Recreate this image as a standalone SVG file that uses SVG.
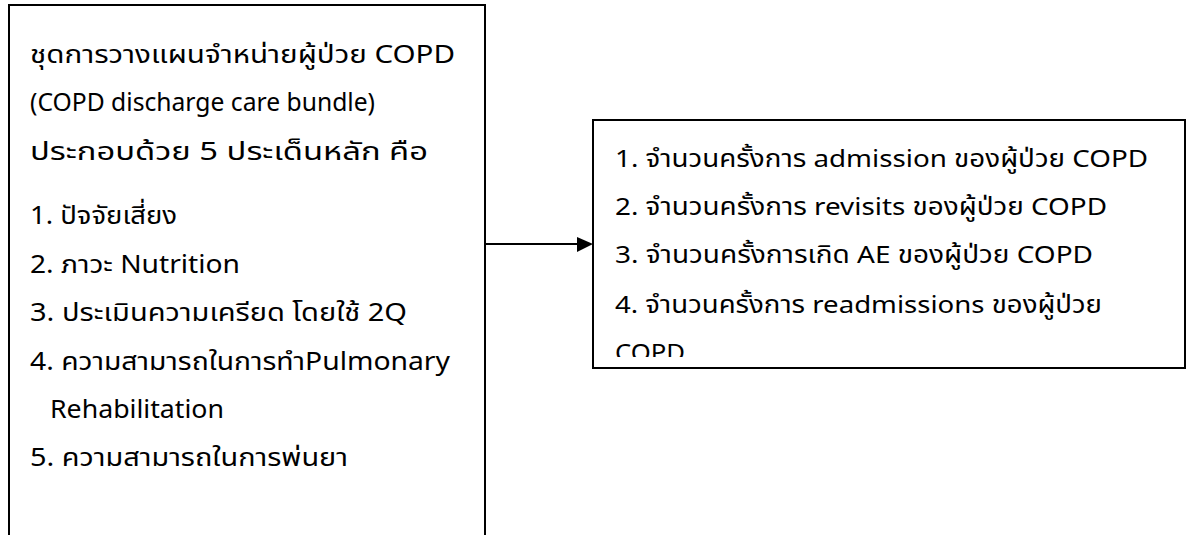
<svg xmlns="http://www.w3.org/2000/svg" width="1186" height="535" viewBox="0 0 1186 535">
  <defs>
    <style>
      .box { fill: #ffffff; stroke: #000000; stroke-width: 2; }
      .t { font-family: "Noto Sans Thai", "Noto Sans", "DejaVu Sans", sans-serif; fill: #000000; }
      .tl { font-size: 25px; }
      .tr { font-size: 24px; }
      .conn { stroke: #000000; stroke-width: 2; fill: none; }
    </style>
    <clipPath id="clipR">
      <rect x="594" y="121" width="590" height="236"/>
    </clipPath>
  </defs>
  <rect width="1186" height="535" fill="#ffffff"/>
  <g id="node-bundle">
    <rect class="box" x="9" y="5" width="476" height="545"/>
    <text class="t tl" x="30" y="63" textLength="425" lengthAdjust="spacingAndGlyphs">ชุดการวางแผนจำหน่ายผู้ป่วย COPD</text>
    <text class="t tl" x="30" y="111" textLength="345" lengthAdjust="spacingAndGlyphs">(COPD discharge care bundle)</text>
    <text class="t tl" x="30" y="160" textLength="398" lengthAdjust="spacingAndGlyphs">ประกอบด้วย 5 ประเด็นหลัก คือ</text>
    <text class="t tl" x="30" y="224" textLength="147" lengthAdjust="spacingAndGlyphs">1. ปัจจัยเสี่ยง</text>
    <text class="t tl" x="30" y="273" textLength="210" lengthAdjust="spacingAndGlyphs">2. ภาวะ Nutrition</text>
    <text class="t tl" x="30" y="321" textLength="377" lengthAdjust="spacingAndGlyphs">3. ประเมินความเครียด โดยใช้ 2Q</text>
    <text class="t tl" x="30" y="370" textLength="420" lengthAdjust="spacingAndGlyphs">4. ความสามารถในการทำPulmonary</text>
    <text class="t tl" x="50" y="418" textLength="174" lengthAdjust="spacingAndGlyphs">Rehabilitation</text>
    <text class="t tl" x="30" y="466" textLength="318" lengthAdjust="spacingAndGlyphs">5. ความสามารถในการพ่นยา</text>
  </g>
  <g id="node-outcomes">
    <rect class="box" x="593" y="120" width="592" height="248"/>
    <g clip-path="url(#clipR)">
      <text class="t tr" x="615" y="167" textLength="533" lengthAdjust="spacingAndGlyphs">1. จำนวนครั้งการ admission ของผู้ป่วย COPD</text>
      <text class="t tr" x="615" y="215" textLength="492" lengthAdjust="spacingAndGlyphs">2. จำนวนครั้งการ revisits ของผู้ป่วย COPD</text>
      <text class="t tr" x="615" y="263" textLength="478" lengthAdjust="spacingAndGlyphs">3. จำนวนครั้งการเกิด AE ของผู้ป่วย COPD</text>
      <text class="t tr" x="615" y="313" textLength="487" lengthAdjust="spacingAndGlyphs">4. จำนวนครั้งการ readmissions ของผู้ป่วย</text>
      <text class="t tr" x="615" y="361" textLength="70" lengthAdjust="spacingAndGlyphs">COPD</text>
    </g>
  </g>
  <g id="connectors">
    <line class="conn" x1="485" y1="244" x2="579" y2="244"/>
    <polygon points="577,237 593,244 577,252" fill="#000000"/>
  </g>
</svg>
